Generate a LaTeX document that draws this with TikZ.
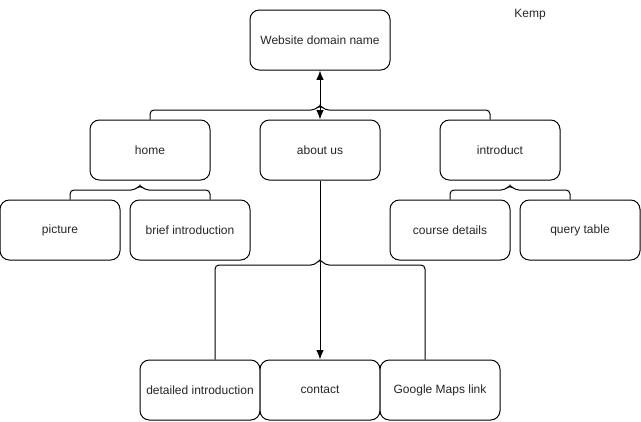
\documentclass[tikz,border=0pt]{standalone}
\usepackage{fontspec}
\setmainfont{Liberation Sans}
\usetikzlibrary{positioning,arrows.meta,calc}

\begin{document}
\begin{tikzpicture}[x=0.75pt, y=-0.75pt,
  page/.style={draw, rounded corners=7pt, line width=0.75pt, fill=white,
               minimum width=90pt, minimum height=45pt, font=\fontsize{9}{11}\selectfont,
               text=black!85, inner sep=2pt},
  br/.style={line width=0.75pt, rounded corners=3pt},
  ar/.style={line width=0.75pt, #1},
]
\useasboundingbox (0,0) rectangle (641,421);

\node[page, minimum width=105pt] (site) at (320, 40) {Website domain name};
\node[page] (home)    at (150,150) {home};
\node[page] (about)   at (320,150) {about us};
\node[page] (intro)   at (500,150) {introduct};
\node[page] (pic)     at ( 60,230) {picture};
\node[page] (brief)   at (190,230) {brief introduction};
\node[page] (course)  at (450,230) {course details};
\node[page] (query)   at (580,230) {query table};
\node[page] (detail)  at (200,390) {detailed introduction};
\node[page] (contact) at (320,390) {contact};
\node[page] (maps)    at (440,390) {Google Maps link};

% braces
\draw[br] (home.north) -- (150,110) -- (315,110) -- (320,105) -- (325,110)
          -- (490,110) -- ($(intro.north)+(-10,0)$);
\draw[br] ($(pic.north)+(10,0)$) -- (70,190) -- (135,190) -- (140,185) -- (145,190)
          -- (210,190) -- ($(brief.north)+(20,0)$);
\draw[br] (course.north) -- (450,190) -- (505,190) -- (510,185) -- (515,190)
          -- (570,190) -- ($(query.north)+(-10,0)$);
\draw[br] ($(detail.north)+(15,0)$) -- (215,265) -- (315,265) -- (320,259) -- (325,265)
          -- (425,265) -- ($(maps.north)+(-15,0)$);

\draw[ar={{Latex[length=7pt,width=5.5pt]}-{Latex[length=7pt,width=5.5pt]}}] (site) -- (about);
\draw[ar={-{Latex[length=7pt,width=5.5pt]}}] (about) -- (contact);

\node[font=\fontsize{9}{11}\selectfont, text=black!85] (kemp) at (530,15) {Kemp};
\end{tikzpicture}
\end{document}
